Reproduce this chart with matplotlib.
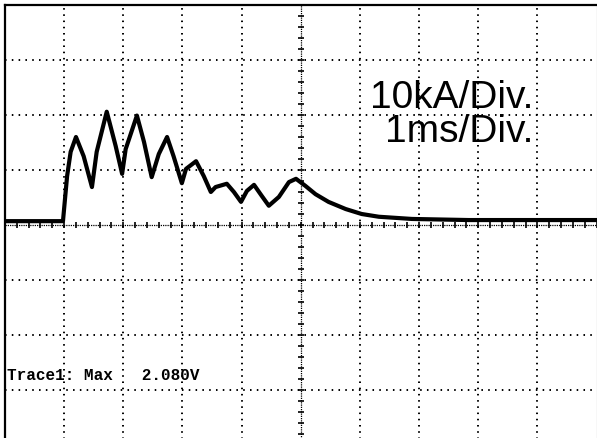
import numpy as np
import matplotlib.pyplot as plt

# trace: time in ms, current in kA (10 kA/div, 1 ms/div)
t_ms = [-5.0, -4.05, -4.02, -3.95, -3.89, -3.80, -3.67, -3.53, -3.45, -3.28,
        -3.13, -3.02, -2.96, -2.77, -2.65, -2.52, -2.40, -2.26, -2.15, -2.01,
        -1.94, -1.77, -1.64, -1.52, -1.44, -1.25, -1.13, -1.01, -0.91, -0.79,
        -0.66, -0.54, -0.37, -0.20, -0.08, 0.08, 0.25, 0.47, 0.76, 1.03,
        1.32, 1.88, 2.84, 5.0]
i_ka = [0.7, 0.7, 0.7, 8.9, 13.3, 16.0, 12.5, 6.9, 13.3, 20.6,
        14.4, 9.3, 13.8, 19.9, 15.1, 8.7, 12.9, 16.0, 12.5, 7.6,
        10.2, 11.6, 8.9, 6.0, 6.9, 7.5, 6.0, 4.2, 6.2, 7.3,
        5.3, 3.5, 5.1, 7.8, 8.4, 7.1, 5.6, 4.2, 2.9, 2.0,
        1.5, 1.1, 0.9, 0.9]

scale_labels = ["10kA/Div.", "1ms/Div."]
readout = "Trace1: Max   2.080V"

fig = plt.figure(figsize=(5.97, 4.39), dpi=100)
ax = fig.add_axes([5 / 597, -7 / 439, 591.5 / 597, 1 - 6 / 439 + 7 / 439])
ax.set_xlim(-5, 5)
ax.set_ylim(-40, 40)
ax.set_xticks([])
ax.set_yticks([])
for s in ["left", "top"]:
    ax.spines[s].set_linewidth(1.6)
ax.spines["right"].set_linewidth(0.8)
ax.spines["right"].set_color("#777777")

# dotted graticule
for xv in range(-4, 5):
    if xv == 0:
        continue
    ax.axvline(xv, color="black", lw=1.4, ls=(0, (0.8, 2.4)), zorder=1)
for yv in range(-30, 40, 10):
    if yv == 0:
        continue
    ax.axhline(yv, color="black", lw=1.4, ls=(0, (0.8, 2.7)), zorder=1)

# centre axes with the fine ticks
ax.axhline(0, color="black", lw=0.9, ls=(0, (1, 0.8)), zorder=1)
ax.axvline(0, color="black", lw=0.9, ls=(0, (1, 0.8)), zorder=1)
tx = np.arange(-5, 5.01, 0.2)
ty = np.arange(-40, 40.1, 2)
ax.plot(tx, np.zeros_like(tx), ls="none", marker="|", ms=4, mew=1.2, color="black", zorder=1)
ax.plot(np.zeros_like(ty), ty, ls="none", marker="_", ms=4, mew=1.2, color="black", zorder=1)

ax.plot(t_ms, i_ka, color="black", lw=3.0, solid_joinstyle="round", zorder=3)

ax.text(3.94, 21.5, scale_labels[0], ha="right", va="baseline",
        fontsize=28, family="Liberation Sans", color="black")
ax.text(3.94, 15.3, scale_labels[1], ha="right", va="baseline",
        fontsize=28, family="Liberation Sans", color="black")
ax.text(-4.97, -27.1, readout, ha="left", va="center", fontsize=11.5,
        family="Liberation Mono", weight="bold", color="black")

fig.savefig("out.png", dpi=100)
